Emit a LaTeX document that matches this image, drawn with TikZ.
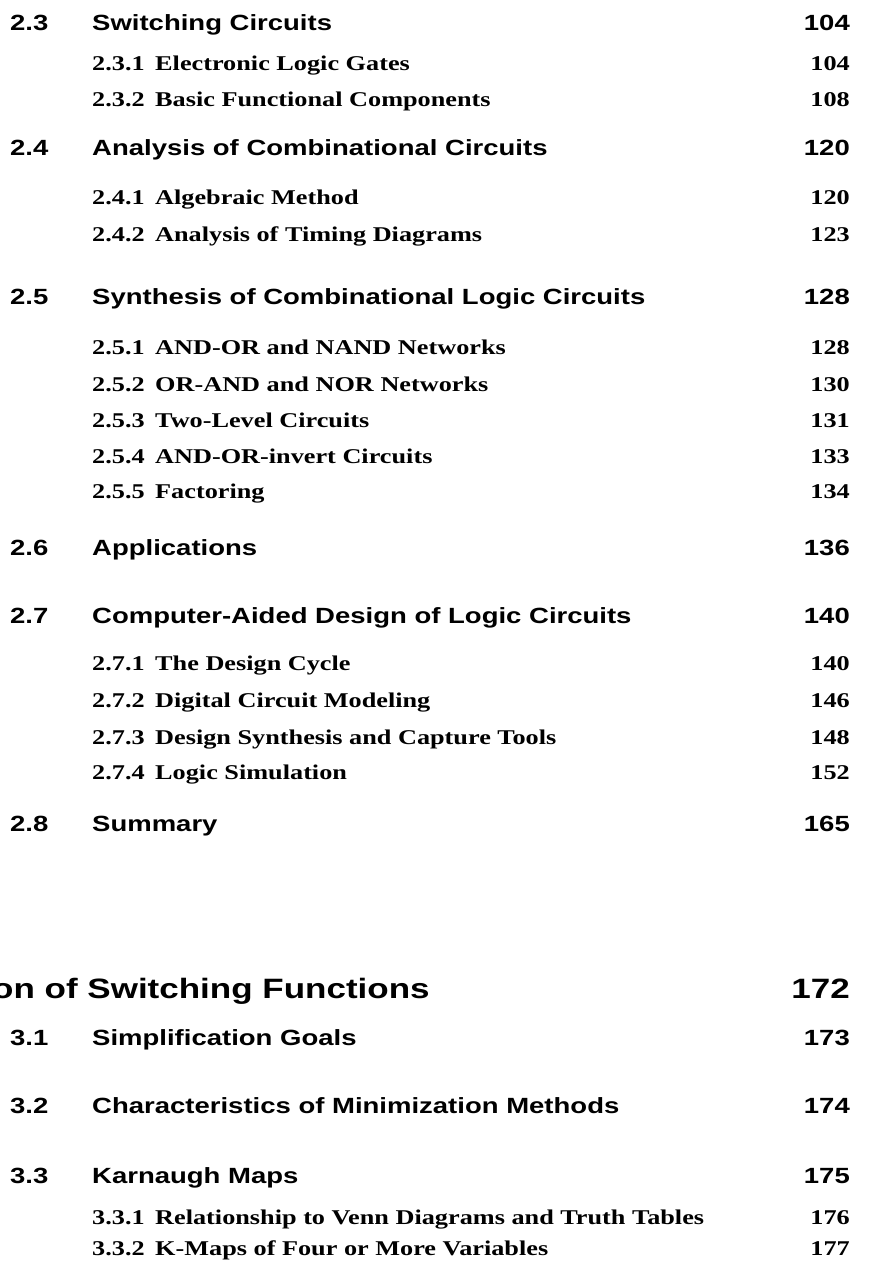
\documentclass[tikz,border=0pt]{standalone}
\usepackage{fontspec}
\newfontfamily\secfont{Liberation Sans}[FakeStretch=1.25]
\newfontfamily\subfont{Liberation Serif}[FakeStretch=1.25]
\tikzset{
  secst/.style={anchor=base west, inner sep=0pt, font=\secfont\bfseries\fontsize{22}{26}\selectfont},
  secpg/.style={anchor=base east, inner sep=0pt, font=\secfont\bfseries\fontsize{22}{26}\selectfont},
  subst/.style={anchor=base west, inner sep=0pt, font=\subfont\bfseries\fontsize{21}{25}\selectfont},
  subpg/.style={anchor=base east, inner sep=0pt, font=\subfont\bfseries\fontsize{21}{25}\selectfont},
  chapst/.style={anchor=base west, inner sep=0pt, font=\secfont\bfseries\fontsize{28}{32}\selectfont},
  chappg/.style={anchor=base east, inner sep=0pt, font=\secfont\bfseries\fontsize{28}{32}\selectfont},
}
\newcommand\secrow[5]{%
  \node[secst] (n#1) at (10,#2) {#3};
  \node[secst] (t#1) at (92,#2) {#4};
  \node[secpg] (p#1) at (850,#2) {#5};}
\newcommand\subrow[5]{%
  \node[subst] (n#1) at (92,#2) {#3};
  \node[subst] (t#1) at (155,#2) {#4};
  \node[subpg] (p#1) at (850,#2) {#5};}
\begin{document}
\begin{tikzpicture}[x=1pt,y=-1pt]
\useasboundingbox[fill=white] (0,0) rectangle (868,1267);
\secrow{a23}{30}{2.3}{Switching Circuits}{104}
\subrow{a231}{70}{2.3.1}{Electronic Logic Gates}{104}
\subrow{a232}{106}{2.3.2}{Basic Functional Components}{108}
\secrow{a24}{155}{2.4}{Analysis of Combinational Circuits}{120}
\subrow{a241}{204}{2.4.1}{Algebraic Method}{120}
\subrow{a242}{241}{2.4.2}{Analysis of Timing Diagrams}{123}
\secrow{a25}{304}{2.5}{Synthesis of Combinational Logic Circuits}{128}
\subrow{a251}{354}{2.5.1}{AND-OR and NAND Networks}{128}
\subrow{a252}{391}{2.5.2}{OR-AND and NOR Networks}{130}
\subrow{a253}{427}{2.5.3}{Two-Level Circuits}{131}
\subrow{a254}{463}{2.5.4}{AND-OR-invert Circuits}{133}
\subrow{a255}{498}{2.5.5}{Factoring}{134}
\secrow{a26}{555}{2.6}{Applications}{136}
\secrow{a27}{623}{2.7}{Computer-Aided Design of Logic Circuits}{140}
\subrow{a271}{670}{2.7.1}{The Design Cycle}{140}
\subrow{a272}{707}{2.7.2}{Digital Circuit Modeling}{146}
\subrow{a273}{744}{2.7.3}{Design Synthesis and Capture Tools}{148}
\subrow{a274}{779}{2.7.4}{Logic Simulation}{152}
\secrow{a28}{831}{2.8}{Summary}{165}
\node[chapst] (tch) at (-8,998) {on of Switching Functions};
\node[chappg] (pch) at (850,998) {172};
\secrow{b31}{1045}{3.1}{Simplification Goals}{173}
\secrow{b32}{1113}{3.2}{Characteristics of Minimization Methods}{174}
\secrow{b33}{1183}{3.3}{Karnaugh Maps}{175}
\subrow{b331}{1224}{3.3.1}{Relationship to Venn Diagrams and Truth Tables}{176}
\subrow{b332}{1255}{3.3.2}{K-Maps of Four or More Variables}{177}
\end{tikzpicture}
\end{document}
